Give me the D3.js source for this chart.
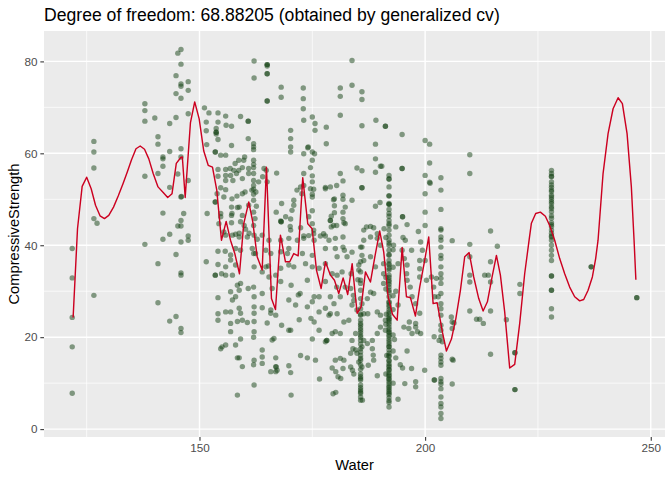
<!DOCTYPE html>
<html><head><meta charset="utf-8">
<script src="https://cdn.jsdelivr.net/npm/d3@7"></script>
<style>body{margin:0;background:#fff;}svg{display:block;font-family:"Liberation Sans",Arial,Helvetica,sans-serif;}</style>
</head><body><svg id="chart" width="672" height="480"></svg>
<script>
// ---------- DATA (Water, CompressiveStrength) ----------
const ptsLeft = [[121.8,39.3],[121.8,32.9],[121.8,24.3],[121.8,17.9],[121.8,7.8],
[126.6,62.6],[126.6,60.3],[126.6,56.8],[126.6,45.8],[127.3,44.8],[126.6,29.1],
[137.9,70.8],[137.9,69.3],[137.9,67.0],[137.9,55.0],[137.9,40.2],[140.1,67.7],
[140.8,63.6],[140.8,62.0],[140.8,55.6],[140.8,36.0],[140.8,27.5],
[141.9,59.2],[141.9,58.8],[141.9,57.2],[141.9,47.0],[141.9,41.3],
[143.4,66.5],[143.4,60.4],[143.4,52.6],[143.4,42.4],[143.4,23.5],
[144.8,76.9],[144.8,73.0],[144.8,67.8],[144.8,38.0],[144.8,24.5],
[145.2,81.8],[145.2,55.5],[145.2,44.2],
[145.9,82.6],[145.9,79.4],[145.9,75.1],[145.9,74.6],[145.9,72.0],[145.9,61.0],[145.9,59.2],[145.9,50.5],[146.0,50.6],[145.9,45.4],[145.9,44.2],[145.9,40.7],[145.9,34.0],[145.9,33.5],[145.9,21.9],[145.9,21.0],[146.5,46.9],
[147.5,75.6],[147.5,73.7],[147.5,68.6],[147.5,54.1],[147.5,42.0],[147.5,41.1]];

const ptsMidUpper = [[154.1,68.8],[155.8,68.1],[154.1,66.8],[155.9,66.1],[151.5,66.8],[151.5,64.9],[153.7,65.4],[153.7,64.6],[153.7,64.6],[153.7,64.2],[154.1,63.0],[151.6,61.9],[153.5,60.3],[153.5,60.3],[154.7,59.6],[155.8,59.6],[159.1,68.0],[160.8,67.0],[160.8,67.0],[160.8,63.2],[162.0,62.1],[162.0,61.4],[157.1,61.7],[162.0,60.8],[157.1,65.9],[151.1,69.9],[152.1,68.8],
[158.7,58.5],[160.0,59.2],[159.8,58.5],[157.9,57.8],[156.8,56.7],[155.8,56.5],[154.1,56.5],[154.1,55.0],[155.8,55.2],
[159.5,56.9],[158.7,56.3],[158.2,55.6],[157.6,56.3],[156.9,55.2],[155.8,54.1],[157.4,54.1],[159.5,54.5],[160.9,55.6],[160.9,56.7],[162.0,56.9],[162.0,55.6],[162.0,54.1],[162.0,53.0],[162.0,52.2],[163.1,53.8],[164.3,56.7],[164.8,56.3],[167.1,55.7],
[154.7,52.5],[155.8,52.1],[153.9,51.2],[155.4,50.5],[157.2,50.1],[158.3,50.7],[159.5,51.2],[160.1,51.6],[161.6,52.0],[162.5,51.6],
[157.1,48.3],[157.1,46.5],[158.4,48.2],[157.2,46.9],[159.5,46.5],[159.1,45.1],[158.8,48.3],[160.9,48.7],[159.9,44.3],[162.0,44.3],
[151.7,46.9],[153.5,49.4],[153.5,49.4],[154.7,46.9],[154.7,46.2],[154.3,44.7],[155.4,42.9],
[168.0,45.3],[170.2,45.7],[169.1,46.2],[170.1,44.1],[170.2,43.3],[170.9,49.8],[171.6,52.0],[172.4,52.7],[173.1,53.0],[170.9,48.7],[170.5,47.6],[174.6,52.3],[175.0,50.5],[175.3,52.2],[174.2,46.2],[175.0,44.7],[175.3,43.3],[174.2,42.1],[175.3,42.5],[173.1,42.0],[172.4,43.8],[177.9,42.0],[177.5,42.5],[179.2,46.3],[179.7,49.9],[179.0,52.7],[177.9,52.3],[173.1,55.6],[174.6,56.9],[175.0,58.5],[175.0,60.3],[174.1,61.4],[173.1,59.9],[170.2,61.4],[170.2,60.3],[170.2,63.2],[170.2,65.0],[168.1,72.2],[173.0,71.9],[173.0,69.7],[173.1,67.2],[175.0,67.9],[175.6,66.5],[175.6,65.0],[178.1,62.1],
[167.0,47.2],[168.1,45.1],[168.1,45.1],[168.2,49.1],
[162.1,80.1],[162.1,76.4],[165.0,79.3],[165.0,79.3],[165.0,79.0],[165.0,77.3],[165.0,77.3],[165.0,71.4],[165.0,71.4],[168.1,74.4],[173.0,74.2],
[162.0,58.5],[162.0,57.6],[162.0,51.1],[164.0,54.9],[165.0,53.8],[162.0,49.8],[162.6,48.5],[162.0,47.2],[162.3,45.8],
[157.1,44.9],[160.2,43.5],[161.0,42.6],[158.8,42.6],[158.0,42.4],[172.7,51.2],
[175.0,55.1],[175.0,53.8],[175.0,51.1],[175.0,47.5],[177.9,52.6],[179.0,45.4],[179.0,45.4],[178.1,65.7],[175.5,59.9],[174.0,61.2],
[183.8,80.2],[183.8,74.8],[181.2,74.2],[181.2,72.4],[181.2,68.3],[186.0,73.4],[186.0,71.7],[186.0,66.0],[189.1,67.2],[191.2,65.9],[191.2,65.9],[189.0,62.0],[189.0,58.8],[189.0,55.9],[190.1,57.2],[190.4,57.2],[189.0,48.5],[190.0,49.3],[184.9,56.8],[186.0,56.2],[186.0,52.5],[186.0,52.5],[183.8,49.8],[181.2,55.6],[181.8,54.0],[181.8,50.9],[181.8,50.0],[179.9,50.1],[179.9,48.6],[181.8,47.2],[182.0,44.9],[179.9,47.1],
[182.3,48.3],[182.3,44.7],[179.7,44.3],[179.2,44.0],[186.4,43.3],[187.0,44.0],[187.9,44.1],[188.6,43.8],[189.4,42.5],[190.9,43.6],[180.4,53.0],[181.8,45.8],[180.4,44.3]];

const ptsMidLower = [[155.8,42.2],[157.3,42.2],[158.8,41.8],[160.6,41.8],[162.1,42.2],[162.8,41.3],[163.9,42.2],[165.4,41.1],[168.0,41.1],[169.8,41.5],[171.7,41.1],[173.1,41.5],[175.4,41.1],[176.8,42.0],[178.7,41.1],[158.0,39.3],[159.1,38.9],[161.7,39.3],[162.4,38.2],[164.7,38.9],[165.8,38.2],[168.0,38.6],[169.5,38.2],[169.8,39.3],[172.8,38.2],[175.0,37.8],[177.9,39.3],
[156.9,37.9],[156.9,36.8],[155.8,35.3],[158.0,35.7],[157.3,33.5],[162.1,35.3],[163.9,34.2],[164.7,35.3],[166.9,33.5],[168.0,35.0],[165.4,33.1],[169.8,35.7],[170.9,35.3],[173.5,36.0],[175.0,35.3],[176.5,35.0],[177.9,36.0],
[158.4,31.3],[159.1,31.7],[158.8,30.2],[156.9,29.9],[158.0,28.8],[157.3,28.1],[160.8,30.6],[162.1,28.8],[163.9,29.5],[166.1,30.6],[168.0,32.1],[170.3,31.3],[171.9,29.2],[172.3,29.5],[173.9,32.4],[175.4,28.8],[176.5,28.8],[177.9,32.1],
[155.8,25.5],[156.9,25.5],[158.8,26.3],[159.1,25.2],[158.4,23.4],[156.9,23.0],[159.5,23.7],[160.6,23.2],[162.1,26.6],[162.1,25.2],[162.1,23.4],[163.9,26.4],[165.8,25.9],[165.8,25.2],[166.9,24.8],[165.0,23.1],[169.8,28.1],[171.3,27.0],[173.9,26.6],[175.0,27.7],[176.5,25.5],[177.9,26.3],[178.7,24.8],
[156.9,21.2],[155.8,18.3],[158.0,18.3],[159.1,19.6],[162.1,21.2],[166.5,19.7],[166.1,19.4],[168.2,22.6],[169.8,21.5],[170.2,21.5],[175.0,19.6],[177.9,19.0],[176.5,21.5],
[158.4,15.5],[158.8,15.5],[159.5,13.6],[163.9,17.2],[163.9,15.7],[162.1,15.0],[163.9,14.3],[166.9,15.5],[166.9,13.6],[172.4,16.0],[173.9,15.5],[175.7,15.0],
[165.8,12.5],[166.9,12.5],[167.2,12.8],[169.8,13.8],[170.2,12.3],[162.1,9.6],[158.4,7.4],[170.3,7.4],[176.6,10.9],
[162.0,38.2],[162.0,30.9],[162.0,20.0],[162.0,14.0],[165.3,35.5],[178.2,19.3],[178.2,19.3],[179.4,13.3],[180.2,12.5],[174.7,24.1],[175.4,23.3],[167.0,13.5],[172.1,23.8],
[151.5,36.4],[153.5,33.5],[153.5,33.5],[154.9,33.8],[154.1,38.7],[155.7,38.7],[154.1,35.8],[154.1,28.6],[154.1,25.1],[154.1,23.7],[155.8,33.5],[154.7,17.5],[155.0,17.9]];

const ptsCentre = [[180.1,41.5],[181.8,41.8],[181.8,39.6],[180.1,39.3],[182.1,38.9],[180.5,37.5],[182.7,37.5],[183.8,38.5],[183.6,33.8],[181.6,34.2],[180.5,33.5],[179.4,33.8],[180.4,30.9],[182.3,30.9],[183.5,30.6],[184.1,29.1],[184.2,28.0],[185.1,32.5],[185.7,32.4],[185.3,34.6],
[190.1,40.0],[189.4,41.5],[187.9,41.8],[186.4,41.1],[186.0,39.6],[186.0,37.8],[186.4,36.7],[185.3,35.7],[187.9,37.5],[189.0,35.3],[190.8,36.0],[190.8,33.8],[190.8,31.7],[187.9,29.8],[188.6,29.5],[187.2,28.4],[186.0,27.3],[184.9,25.9],[186.4,25.1],[187.3,25.1],[189.4,25.5],[190.1,24.8],[191.2,23.7],[191.2,21.5],[190.1,22.2],[189.4,20.8],[188.3,19.3],[186.4,19.3],[186.0,17.9],[184.6,17.2],[183.5,16.5],[182.0,15.0],[181.2,15.4],[180.1,15.0],
[179.4,20.8],[180.1,21.2],[181.2,20.8],[182.0,23.3],[183.1,23.7],[180.5,25.1],[179.0,25.1],[181.2,28.8],[179.0,28.8],[179.8,27.3],[183.8,27.0],[184.6,20.8],[183.8,19.3],[184.9,16.5],[185.3,14.6],[186.0,13.5],[183.5,13.5],[188.5,16.1],[187.2,18.6],[188.3,17.5],[188.6,15.0],
[179.6,7.7],[180.7,11.4],[181.8,13.2],[183.9,12.8],[187.4,13.9],[189.4,11.6],[194.0,6.5],[195.5,9.9],[195.0,13.3],[197.0,13.2],[197.9,10.3],[197.9,9.2],[199.9,12.8],[202.0,10.7],[202.1,10.7],[206.0,9.8],[184.0,17.5],[180.2,8.0],[186.1,6.3],[184.2,12.0],[181.3,11.0],
[195.1,41.7],[195.6,41.1],[194.9,38.9],[195.4,37.1],[196.0,35.7],[195.9,33.8],[196.0,32.4],[196.7,30.9],[197.1,28.8],[197.9,27.3],[197.9,23.0],[197.9,22.2],[198.3,21.2],[196.4,21.9],[195.3,22.2],[197.1,20.8],[199.0,20.8],[197.0,38.9],[199.0,40.7],[199.4,38.9],[198.8,36.7],[200.0,36.7],[198.8,34.9],[198.8,33.1],[200.3,32.4],[201.4,33.1],[201.9,30.9],[202.5,32.8],[202.1,28.8],[202.9,28.8],
[200.0,62.8],[201.0,62.0],[201.0,57.9],[200.0,55.2],[201.1,53.5],[200.0,51.2],[200.0,47.2],[200.0,44.3],[201.0,53.7],[205.8,24.4],[206.0,23.3],[206.4,23.1],[206.2,15.0],[202.0,20.1],[203.1,19.3],[203.8,19.0],[198.8,25.2],[196.5,23.3],[206.0,21.9],
[194.9,64.1],[194.9,56.7],[194.9,56.7],[195.0,46.2],[195.0,46.2],[193.5,44.0],[193.0,40.0],[194.0,36.0],[193.5,30.0],[194.0,27.0],[193.2,19.5],[193.5,15.5],[196.0,17.0],[194.5,14.0],[196.0,44.5],[198.5,43.0],
[191.3,41.7],[192.9,35.2],[191.3,30.5],[192.9,26.0],[191.3,22.8],[192.9,17.0],[191.3,12.0],[192.9,39.0],[191.3,33.0],[192.9,29.0],[191.4,25.0],[192.9,20.5],[191.5,16.0],[192.9,10.0]];

const col1857Water = 185.7;
const col1857Strength = [39.6,36.4,34.2,31.7,30.2,28.4,26.2,25.0,24.8,23.7,23.0,22.6,22.0,21.5,21.0,20.4,20.0,19.3,18.5,17.5,16.8,16.0,15.4,15.0,14.0,13.0,12.0,11.4,11.0,10.7,9.6,9.0,8.5,8.1,7.8,7.0,6.3];
const col192Water = 192.0;
const col192Strength = [55.2,54.4,54.4,52.7,50.8,50.7,49.1,48.9,48.9,47.8,46.9,46.3,45.4,44.7,44.3,43.3,42.2,41.1,40.5,40.0,38.9,38.0,37.8,36.7,36.0,35.7,35.0,34.6,33.5,33.0,32.4,32.0,31.5,30.9,30.2,29.8,28.8,27.7,27.5,27.0,26.6,26.0,25.5,25.0,24.4,24.0,23.8,23.3,22.8,22.2,21.7,21.2,21.0,20.5,20.1,19.5,19.0,18.5,18.0,17.9,17.2,16.5,16.0,15.8,15.0,14.8,14.2,13.8,13.5,13.0,12.8,12.2,11.8,11.5,11.0,10.8,10.3,9.8,9.3,9.0,8.6,8.2,7.8,7.5,6.8,6.2,5.8,4.8];
const col2035Water = 203.5;
const col2035Strength = [54.7,52.0,47.8,43.6,43.3,41.8,41.1,39.6,37.8,37.1,35.3,33.8,32.8,31.7,29.5,27.3,26.2,24.8,22.6,21.5,20.1,16.1,15.4,14.6,13.9,11.0,10.3,9.8,8.8,7.0,5.6,4.8,3.4,2.3];
const col228Water = 228.0;
const col228Strength = [56.3,55.6,55.0,54.9,53.8,53.1,52.6,52.0,51.7,50.9,50.5,50.0,49.5,49.1,48.4,48.0,47.3,46.4,45.9,44.9,44.5,44.1,43.3,42.6,42.0,41.8,41.1,40.0,38.9,37.8,36.7,33.3,33.3,30.2,30.2,26.2,24.4];

const ptsRight = [[209.9,59.7],[209.9,55.6],[209.9,40.2],[209.9,37.5],[209.9,33.5],[209.9,32.0],[209.9,25.7],[211.4,23.9],[212.1,23.9],[212.9,23.0],[206.0,15.2],[206.0,41.0],[214.5,43.1],[214.5,36.4],[214.5,32.0],[214.5,25.7],[214.5,16.3],[216.0,39.8],[213.2,33.5],[214.0,33.5],[218.0,23.8],[219.9,16.6],[219.9,16.6],[219.9,8.6],[219.9,8.6],[221.0,31.5],[221.0,29.5],[236.8,35.3],[236.8,35.3],[246.9,28.6],[246.9,28.6]];

// smoothing spline fit (df = 68.88205)
const splineFit = [[122.0,24.3],[122.97,43.6],[124.0,52.8],[125.0,54.8],[126.0,52.3],[126.96,48.7],[127.96,46.4],[128.94,45.8],[129.9,46.5],[130.95,48.3],[131.99,50.7],[133.05,53.4],[133.98,55.9],[134.94,58.6],[135.93,61.0],[136.86,61.6],[137.82,60.9],[138.77,58.8],[139.74,55.6],[140.81,52.7],[141.96,51.5],[142.96,50.4],[143.91,51.2],[144.86,57.8],[145.86,59.1],[146.2,59.2],[146.83,50.4],[148.0,66.7],[148.94,71.2],[149.93,67.5],[150.95,60.5],[151.93,57.4],[152.88,57.0],[153.83,52.0],[154.87,41.1],[155.91,45.2],[156.87,41.1],[157.82,38.2],[158.86,33.8],[159.81,44.7],[160.92,49.4],[161.81,45.1],[162.78,37.5],[163.89,34.6],[164.84,57.0],[165.95,28.4],[166.84,26.0],[167.94,42.2],[169.05,36.4],[170.0,36.4],[170.89,38.2],[171.87,37.7],[172.88,54.7],[173.99,44.7],[174.97,43.6],[175.92,34.6],[176.96,30.6],[177.91,36.4],[179.02,33.5],[179.91,32.4],[180.86,29.5],[181.83,32.9],[182.85,29.3],[183.83,36.0],[184.94,25.2],[185.82,26.6],[186.78,34.2],[187.88,32.0],[188.99,38.2],[189.94,43.1],[190.83,38.5],[191.8,28.8],[192.76,25.0],[193.8,23.7],[194.91,39.5],[195.86,28.8],[196.74,28.6],[197.85,24.6],[198.8,30.9],[199.84,36.4],[200.8,41.8],[201.77,27.3],[202.66,27.5],[203.83,21.1],[204.72,17.0],[205.83,19.6],[206.82,24.1],[207.82,30.2],[208.77,37.5],[209.75,38.4],[210.77,33.1],[211.88,28.4],[212.85,25.7],[213.8,27.7],[214.84,33.1],[215.8,37.8],[216.68,33.5],[217.63,25.5],[218.74,13.3],[219.85,14.1],[220.96,23.0],[222.06,33.8],[223.04,41.1],[223.55,44.8],[224.5,46.9],[225.54,47.2],[226.65,46.3],[227.6,44.3],[228.71,41.1],[229.82,37.1],[230.93,33.8],[232.03,30.9],[233.14,28.8],[234.25,27.9],[235.14,28.2],[236.11,30.2],[237.06,33.1],[237.79,37.1],[238.32,41.1],[239.43,55.6],[240.54,64.3],[241.65,69.7],[242.76,72.1],[243.71,70.8],[244.75,64.3],[245.7,52.7],[246.3,41.1],[246.7,32.5]];

const xTicks = [150, 200, 250];
const yTicks = [0, 20, 40, 60, 80];
const xMinor = [125, 175, 225];
const yMinor = [10, 30, 50, 70];
const titleText = "Degree of freedom: 68.88205 (obtained by generalized cv)";
const xLabel = "Water";
const yLabel = "CompressiveStrength";

// ---------- BUILD ----------
const colPts = (w, arr) => arr.map(s => [w, s]);
const points = [].concat(ptsLeft, ptsMidUpper, ptsMidLower, ptsCentre,
  colPts(col1857Water, col1857Strength), colPts(col192Water, col192Strength),
  colPts(col2035Water, col2035Strength), colPts(col228Water, col228Strength), ptsRight);

const W = 672, H = 480;
const panel = {left: 44, right: 665, top: 31, bottom: 437};
const xExt = d3.extent(points, d => d[0]);
const yExt = d3.extent(points, d => d[1]);
const xPad = (xExt[1] - xExt[0]) * 0.05, yPad = (yExt[1] - yExt[0]) * 0.05;
const x = d3.scaleLinear().domain([xExt[0] - xPad, xExt[1] + xPad]).range([panel.left, panel.right]);
const y = d3.scaleLinear().domain([yExt[0] - yPad, yExt[1] + yPad]).range([panel.bottom, panel.top]);

const svg = d3.select("#chart");
svg.append("rect").attr("width", W).attr("height", H).attr("fill", "#fff");
svg.append("rect").attr("x", panel.left).attr("y", panel.top)
  .attr("width", panel.right - panel.left).attr("height", panel.bottom - panel.top).attr("fill", "#EBEBEB");

const grid = svg.append("g");
grid.selectAll(".xm").data(xMinor).join("line").attr("x1", d => x(d)).attr("x2", d => x(d))
  .attr("y1", panel.top).attr("y2", panel.bottom).attr("stroke", "#fff").attr("stroke-width", 0.71);
grid.selectAll(".ym").data(yMinor).join("line").attr("y1", d => y(d)).attr("y2", d => y(d))
  .attr("x1", panel.left).attr("x2", panel.right).attr("stroke", "#fff").attr("stroke-width", 0.71);
grid.selectAll(".xM").data(xTicks).join("line").attr("x1", d => x(d)).attr("x2", d => x(d))
  .attr("y1", panel.top).attr("y2", panel.bottom).attr("stroke", "#fff").attr("stroke-width", 1.42);
grid.selectAll(".yM").data(yTicks).join("line").attr("y1", d => y(d)).attr("y2", d => y(d))
  .attr("x1", panel.left).attr("x2", panel.right).attr("stroke", "#fff").attr("stroke-width", 1.42);

// points
svg.append("g").selectAll("circle").data(points).join("circle")
  .attr("cx", d => x(d[0])).attr("cy", d => y(d[1])).attr("r", 2.7)
  .attr("fill", "rgb(20,66,20)").attr("fill-opacity", 0.5);

// spline
const line = d3.line().x(d => x(d[0])).y(d => y(d[1]));
svg.append("path").datum(splineFit).attr("d", line).attr("fill", "none")
  .attr("stroke", "#CC0020").attr("stroke-width", 1.42).attr("stroke-linejoin", "round");

// axes
const xAxis = d3.axisBottom(x).tickValues(xTicks).tickSize(3.67).tickPadding(2.9);
const yAxis = d3.axisLeft(y).tickValues(yTicks).tickSize(3.67).tickPadding(2.9);
const gx = svg.append("g").attr("transform", `translate(0,${panel.bottom})`).call(xAxis);
const gy = svg.append("g").attr("transform", `translate(${panel.left},0)`).call(yAxis);
[gx, gy].forEach(g => {
  g.select(".domain").remove();
  g.selectAll(".tick line").attr("stroke", "#333333").attr("stroke-width", 1.07);
  g.selectAll(".tick text").attr("fill", "#4D4D4D").attr("font-size", "11.7px")
    .attr("font-family", '"Liberation Sans",Arial,Helvetica,sans-serif');
});

svg.append("text").attr("x", panel.left).attr("y", 21).attr("font-size", "17.6px").attr("fill", "#000").text(titleText);
svg.append("text").attr("x", (panel.left + panel.right) / 2).attr("y", 470).attr("text-anchor", "middle")
  .attr("font-size", "14.67px").attr("fill", "#000").text(xLabel);
svg.append("text").attr("transform", `translate(18.5,${(panel.top + panel.bottom) / 2}) rotate(-90)`)
  .attr("text-anchor", "middle").attr("font-size", "14.67px").attr("fill", "#000").text(yLabel);
</script></body></html>
